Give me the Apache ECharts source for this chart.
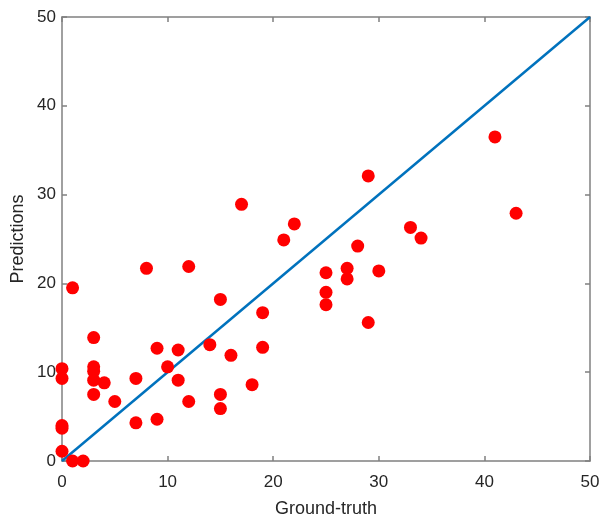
<!DOCTYPE html>
<html>
<head>
<meta charset="utf-8">
<script src="https://cdn.jsdelivr.net/npm/echarts@6/dist/echarts.min.js"></script>
<style>
html, body { margin: 0; padding: 0; background: #fff; }
#chart { width: 603px; height: 524px; }
</style>
</head>
<body>
<div id="chart"></div>
<script>
// ground truth vs predictions
var groundTruth = [0, 0, 0, 0, 0, 1, 2, 1, 3, 3, 3, 3, 3, 4, 5, 7, 7, 8, 9, 9,
    10, 11, 11, 12, 12, 14, 15, 15, 15, 16, 17, 18, 19, 19, 21, 22, 25, 25, 25,
    27, 27, 28, 29, 29, 30, 33, 34, 41, 43];
var predictions = [10.4, 9.3, 4.0, 3.7, 1.1, 0, 0, 19.5, 13.9, 10.6, 10.1, 9.1, 7.5, 8.8, 6.7, 9.3, 4.3, 21.7, 12.7, 4.7,
    10.6, 12.5, 9.1, 21.9, 6.7, 13.1, 18.2, 7.5, 5.9, 11.9, 28.9, 8.6, 16.7, 12.8, 24.9, 26.7, 21.2, 19.0, 17.6,
    21.7, 20.5, 24.2, 32.1, 15.6, 21.4, 26.3, 25.1, 36.5, 27.9];
var diagonal = [[0, 0], [50, 50]];

var points = groundTruth.map(function (g, i) { return [g, predictions[i]]; });

var myChart = echarts.init(document.getElementById('chart'));

var labelStyle = { color: '#262626', fontSize: 17, fontFamily: 'Liberation Sans, Arial, sans-serif' };
var lineStyle = { color: '#808080', width: 1.5 };

function mainAxis(name, extra) {
    return Object.assign({
        type: 'value', min: 0, max: 50, interval: 10,
        name: name,
        nameLocation: 'middle',
        nameMoveOverlap: false,
        nameTextStyle: { color: '#262626', fontSize: 18, fontFamily: 'Liberation Sans, Arial, sans-serif' },
        axisLine: { show: true, lineStyle: lineStyle },
        axisTick: { show: true, inside: true, length: 5, lineStyle: lineStyle },
        axisLabel: labelStyle,
        splitLine: { show: false }
    }, extra);
}
function boxAxis(pos) {
    return {
        type: 'value', min: 0, max: 50, interval: 10, position: pos,
        axisLine: { show: true, onZero: false, lineStyle: lineStyle },
        axisTick: { show: true, inside: true, length: 5, lineStyle: lineStyle },
        axisLabel: { show: false },
        splitLine: { show: false }
    };
}

var option = {
    backgroundColor: '#fff',
    animation: false,
    grid: { left: 62, right: 13, top: 17, bottom: 63, containLabel: false, outerBoundsMode: 'none' },
    xAxis: [
        mainAxis('Ground-truth', { position: 'bottom', nameGap: 39,
            axisLabel: Object.assign({ margin: 13 }, labelStyle) }),
        boxAxis('top')
    ],
    yAxis: [
        mainAxis('Predictions', { position: 'left', nameGap: 35,
            axisLabel: Object.assign({ margin: 6 }, labelStyle) }),
        boxAxis('right')
    ],
    series: [
        {
            type: 'line',
            data: diagonal,
            symbol: 'none',
            lineStyle: { color: '#0072BD', width: 2.5 },
            z: 2
        },
        {
            type: 'scatter',
            data: points,
            symbolSize: 13,
            itemStyle: { color: '#ff0000', opacity: 1 },
            z: 3
        }
    ]
};
myChart.setOption(option);

window.onresize = function () {
    myChart.resize();
};
</script>
</body>
</html>
